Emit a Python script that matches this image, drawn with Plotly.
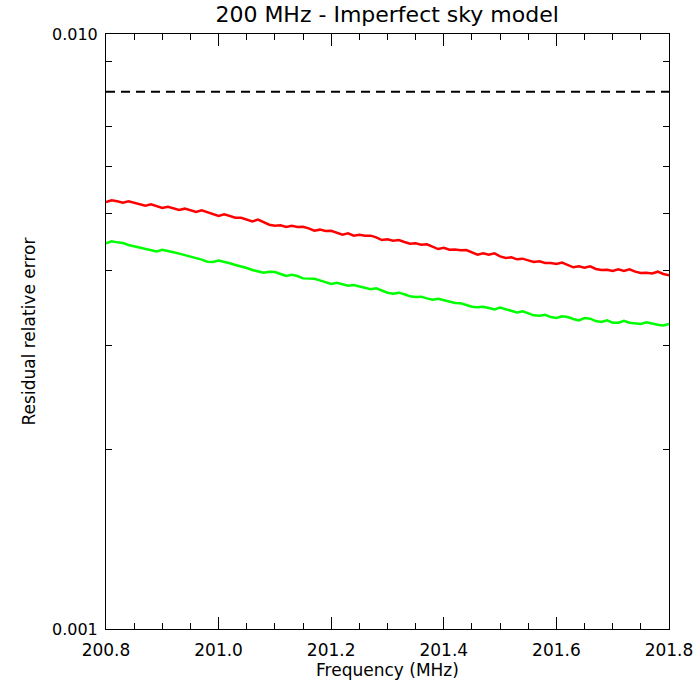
import plotly.graph_objects as go

# Frequency grid (MHz), 0.01 MHz steps from 200.80 to 201.80
freq = [round(200.80 + 0.01 * i, 2) for i in range(101)]

# Residual relative error (x 1e-3)
red_err = [5.220, 5.253, 5.233, 5.206, 5.233, 5.200, 5.173, 5.146, 5.173, 5.139,
           5.100, 5.126, 5.100, 5.061, 5.087, 5.061, 5.022, 5.054, 5.022, 4.976,
           4.944, 4.976, 4.938, 4.912, 4.912, 4.881, 4.843, 4.875, 4.821, 4.781,
           4.762, 4.769, 4.738, 4.762, 4.738, 4.744, 4.714, 4.671, 4.690, 4.665,
           4.671, 4.635, 4.600, 4.623, 4.582, 4.600, 4.582, 4.582, 4.552, 4.505,
           4.517, 4.494, 4.505, 4.471, 4.442, 4.448, 4.425, 4.431, 4.396, 4.351,
           4.373, 4.340, 4.345, 4.329, 4.334, 4.290, 4.257, 4.279, 4.257, 4.279,
           4.230, 4.203, 4.213, 4.181, 4.192, 4.165, 4.138, 4.149, 4.122, 4.122,
           4.106, 4.128, 4.085, 4.054, 4.069, 4.048, 4.069, 4.028, 4.012, 4.017,
           3.996, 4.022, 3.996, 4.022, 3.986, 3.965, 3.970, 3.960, 3.986, 3.950,
           3.930]

green_err = [4.448, 4.482, 4.465, 4.454, 4.419, 4.396, 4.379, 4.345, 4.323, 4.312,
             4.340, 4.323, 4.296, 4.274, 4.252, 4.230, 4.197, 4.176, 4.144, 4.138,
             4.160, 4.144, 4.117, 4.090, 4.069, 4.043, 4.012, 3.991, 3.970, 3.986,
             3.981, 3.950, 3.920, 3.940, 3.920, 3.884, 3.879, 3.879, 3.854, 3.824,
             3.800, 3.819, 3.795, 3.776, 3.786, 3.766, 3.737, 3.723, 3.737, 3.708,
             3.675, 3.661, 3.675, 3.652, 3.623, 3.614, 3.619, 3.595, 3.577, 3.590,
             3.572, 3.545, 3.531, 3.527, 3.504, 3.481, 3.472, 3.481, 3.463, 3.445,
             3.468, 3.445, 3.419, 3.405, 3.419, 3.397, 3.366, 3.361, 3.374, 3.344,
             3.332, 3.353, 3.344, 3.319, 3.301, 3.332, 3.323, 3.293, 3.280, 3.301,
             3.272, 3.272, 3.297, 3.272, 3.267, 3.255, 3.276, 3.259, 3.247, 3.238,
             3.255]

threshold_x = [200.8, 201.8]
threshold_y = [0.008, 0.008]

x_ticks = [200.8, 201.0, 201.2, 201.4, 201.6, 201.8]
x_ticklabels = ["200.8", "201.0", "201.2", "201.4", "201.6", "201.8"]
x_minor = [200.85, 200.9, 200.95, 201.05, 201.1, 201.15, 201.25, 201.3, 201.35,
           201.45, 201.5, 201.55, 201.65, 201.7, 201.75]
y_ticks = [0.001, 0.01]
y_ticklabels = ["0.001", "0.010"]
y_minor = [0.002, 0.003, 0.004, 0.005, 0.006, 0.007, 0.008, 0.009]

FONT = "DejaVu Sans"

fig = go.Figure()
fig.add_trace(go.Scatter(x=threshold_x, y=threshold_y, mode="lines",
                         line=dict(color="black", width=2, dash="9px,6px"),
                         showlegend=False, hoverinfo="skip"))
fig.add_trace(go.Scatter(x=freq, y=[v * 1e-3 for v in red_err], mode="lines",
                         line=dict(color="#ff0000", width=2.5),
                         showlegend=False))
fig.add_trace(go.Scatter(x=freq, y=[v * 1e-3 for v in green_err], mode="lines",
                         line=dict(color="#00ff00", width=2.5),
                         showlegend=False))

fig.update_layout(
    width=700, height=700,
    margin=dict(l=106, r=31, t=34, b=71, autoexpand=False),
    paper_bgcolor="white", plot_bgcolor="white",
    font=dict(family=FONT, size=17, color="black"),
    title=dict(text="200 MHz - Imperfect sky model", x=0.553, xanchor="center",
               y=0.979, yanchor="middle", font=dict(family=FONT, size=22, color="black")),
)
fig.update_xaxes(
    range=[200.8, 201.8], showgrid=False, zeroline=False, automargin=False,
    showline=True, linecolor="black", linewidth=1, mirror="ticks",
    ticks="inside", ticklen=12, tickwidth=1, tickcolor="black",
    tickvals=x_ticks, ticktext=x_ticklabels, ticklabelstandoff=6,
    tickfont=dict(family=FONT, size=17),
    minor=dict(tickvals=x_minor, ticks="inside", ticklen=6, tickcolor="black", tickwidth=1),
    title=dict(text="Frequency (MHz)", standoff=2, font=dict(family=FONT, size=17)),
)
fig.update_yaxes(
    type="log", range=[-3, -2], showgrid=False, zeroline=False, automargin=False,
    showline=True, linecolor="black", linewidth=1, mirror="ticks",
    ticks="inside", ticklen=12, tickwidth=1, tickcolor="black",
    tickvals=y_ticks, ticktext=y_ticklabels, ticklabelstandoff=4,
    tickfont=dict(family=FONT, size=16),
    minor=dict(tickvals=y_minor, ticks="inside", ticklen=6, tickcolor="black", tickwidth=1),
    title=dict(text="Residual relative error", standoff=12, font=dict(family=FONT, size=17)),
)

fig.write_html("out.html")
